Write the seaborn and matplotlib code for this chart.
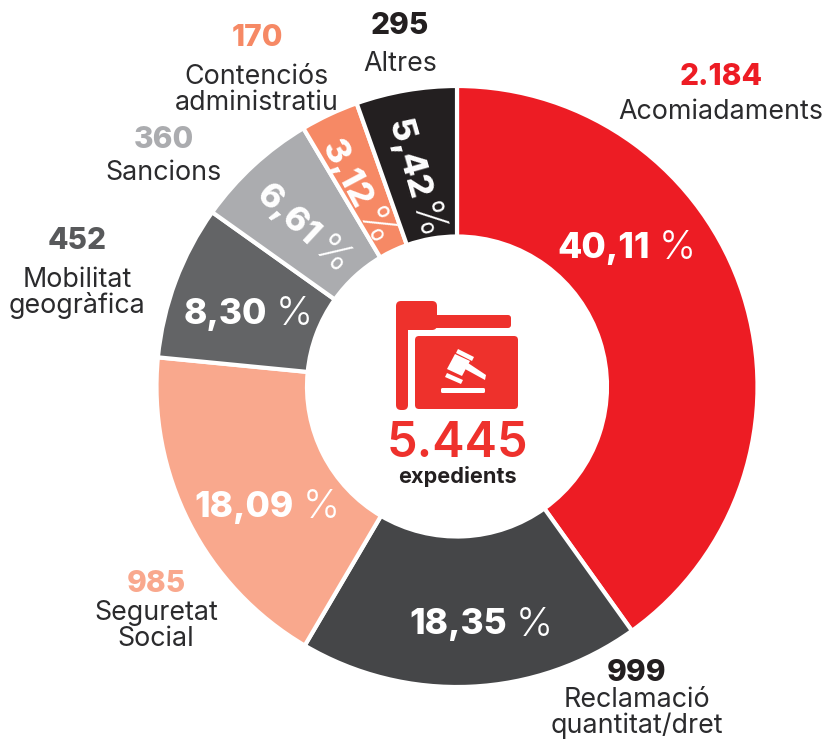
import math
import matplotlib
matplotlib.use("Agg")
import matplotlib.pyplot as plt
from matplotlib.patches import FancyBboxPatch, Polygon
import seaborn as sns

sns.set_theme(style="white")
plt.rcParams['font.family'] = ['Inter', 'DejaVu Sans']

categories = ["Acomiadaments", "Reclamació\nquantitat/dret", "Seguretat\nSocial",
              "Mobilitat\ngeogràfica", "Sancions", "Contenciós\nadministratiu", "Altres"]
counts = [2184, 999, 985, 452, 360, 170, 295]
count_labels = ["2.184", "999", "985", "452", "360", "170", "295"]
percents = ["40,11", "18,35", "18,09", "8,30", "6,61", "3,12", "5,42"]
colors = ["#ED1C24", "#454648", "#F9A88D", "#636466", "#ABACAF", "#F68965", "#231F20"]
count_colors = ["#ED1C24", "#231F20", "#F9A88D", "#58595B", "#ABACAF", "#F68965", "#231F20"]
total_label = "5.445"
total_caption = "expedients"

W, H = 829, 739
fig = plt.figure(figsize=(W / 100, H / 100), dpi=100, facecolor="white")
ax = fig.add_axes([0, 0, 1, 1])

CX, CY, R, RIN = 457, 386.5, 300.5, 150
Y = lambda y: H - y

ax.pie(counts, colors=colors, startangle=90, counterclock=False, radius=R,
       center=(CX, Y(CY)), frame=True,
       wedgeprops=dict(width=R - RIN, edgecolor="white", linewidth=3))
ax.set_xlim(0, W)
ax.set_ylim(0, H)
ax.set_aspect("equal")
ax.axis("off")

fig.canvas.draw()
rend = fig.canvas.get_renderer()


def pct(text, cx, cy, rot=0, size=25.0, gap=9):
    """Bold value and a light percent sign, centred on (cx, cy) along the angle rot."""
    a = ax.text(0, 0, text, fontsize=size, fontweight=800, color="white", ha="left",
                va="center_baseline", rotation=0, rotation_mode="anchor")
    b = ax.text(0, 0, "%", fontsize=size * 1.12, fontweight=300, color="white", ha="left",
                va="center_baseline", rotation=0, rotation_mode="anchor")
    wa = a.get_window_extent(rend).width
    wb = b.get_window_extent(rend).width
    a.set_rotation(rot); b.set_rotation(rot)
    tot = wa + gap + wb
    t = math.radians(rot)
    x0, y0 = cx - tot / 2 * math.cos(t), Y(cy) - tot / 2 * math.sin(t)
    a.set_position((x0, y0))
    b.set_position((x0 + (wa + gap) * math.cos(t), y0 + (wa + gap) * math.sin(t)))


pct_positions = [(627, 245, 0), (481, 621, 0), (267, 504, 0), (248, 311, 0),
                 (305, 227, -43), (359, 192, -62), (417, 179, -74)]
for p, (x, y, r) in zip(percents, pct_positions):
    pct(p, x, y, r, size=25.5 if r == 0 else 25.0, gap=9 if r == 0 else 6)

# Outer labels: value, then category
label_positions = [(721, 77, 112, "center"), (637, 673, 713, "center"), (156, 584, 626, "center"),
                   (77, 241, 293, "center"), (164, 140, 173, "center"), (257, 38, 90, "center"),
                   (400, 26, 64, "center")]
for cat, cl, col, (x, yv, yc, ha) in zip(categories, count_labels, count_colors, label_positions):
    ax.text(x, Y(yv), cl, fontsize=21.5, fontweight=800, color=col, ha=ha, va="center")
    ax.text(x, Y(yc), cat, fontsize=19.3, fontweight=400, color="#2B2B2D", ha=ha, va="center",
            linespacing=0.95, multialignment="center")

# Centre: folder icon with a gavel
RED = "#EE312C"
ax.add_patch(FancyBboxPatch((396, Y(328)), 115, 13, boxstyle="round,pad=0,rounding_size=3", fc=RED, ec="none"))
ax.add_patch(FancyBboxPatch((396, Y(330)), 41, 29, boxstyle="round,pad=0,rounding_size=5", fc=RED, ec="none"))
ax.add_patch(FancyBboxPatch((396, Y(410)), 12, 95, boxstyle="round,pad=0,rounding_size=5", fc=RED, ec="none"))
ax.add_patch(FancyBboxPatch((415, Y(409)), 103, 73, boxstyle="round,pad=0,rounding_size=4", fc=RED, ec="none"))
white_shapes = [
    [(458, 349), (474, 357), (472, 361), (456, 353)],
    [(455, 354), (470, 361), (462, 376), (447, 369)],
    [(447, 373), (463, 380), (461, 384), (445, 377)],
    [(468, 363), (486, 375), (485, 380), (465, 369)],
]
for pts in white_shapes:
    ax.add_patch(Polygon([(x, Y(y)) for x, y in pts], fc="white", ec="none"))
ax.add_patch(FancyBboxPatch((441, Y(393)), 44, 5, boxstyle="round,pad=0,rounding_size=1.5", fc="white", ec="none"))

ax.text(457, Y(444), total_label, fontsize=35, fontweight=600, color=RED, ha="center", va="center")
ax.text(457, Y(477), total_caption, fontsize=15.6, fontweight=700, color="#231F20", ha="center", va="center")

fig.savefig("out.png", dpi=100, facecolor="white")
